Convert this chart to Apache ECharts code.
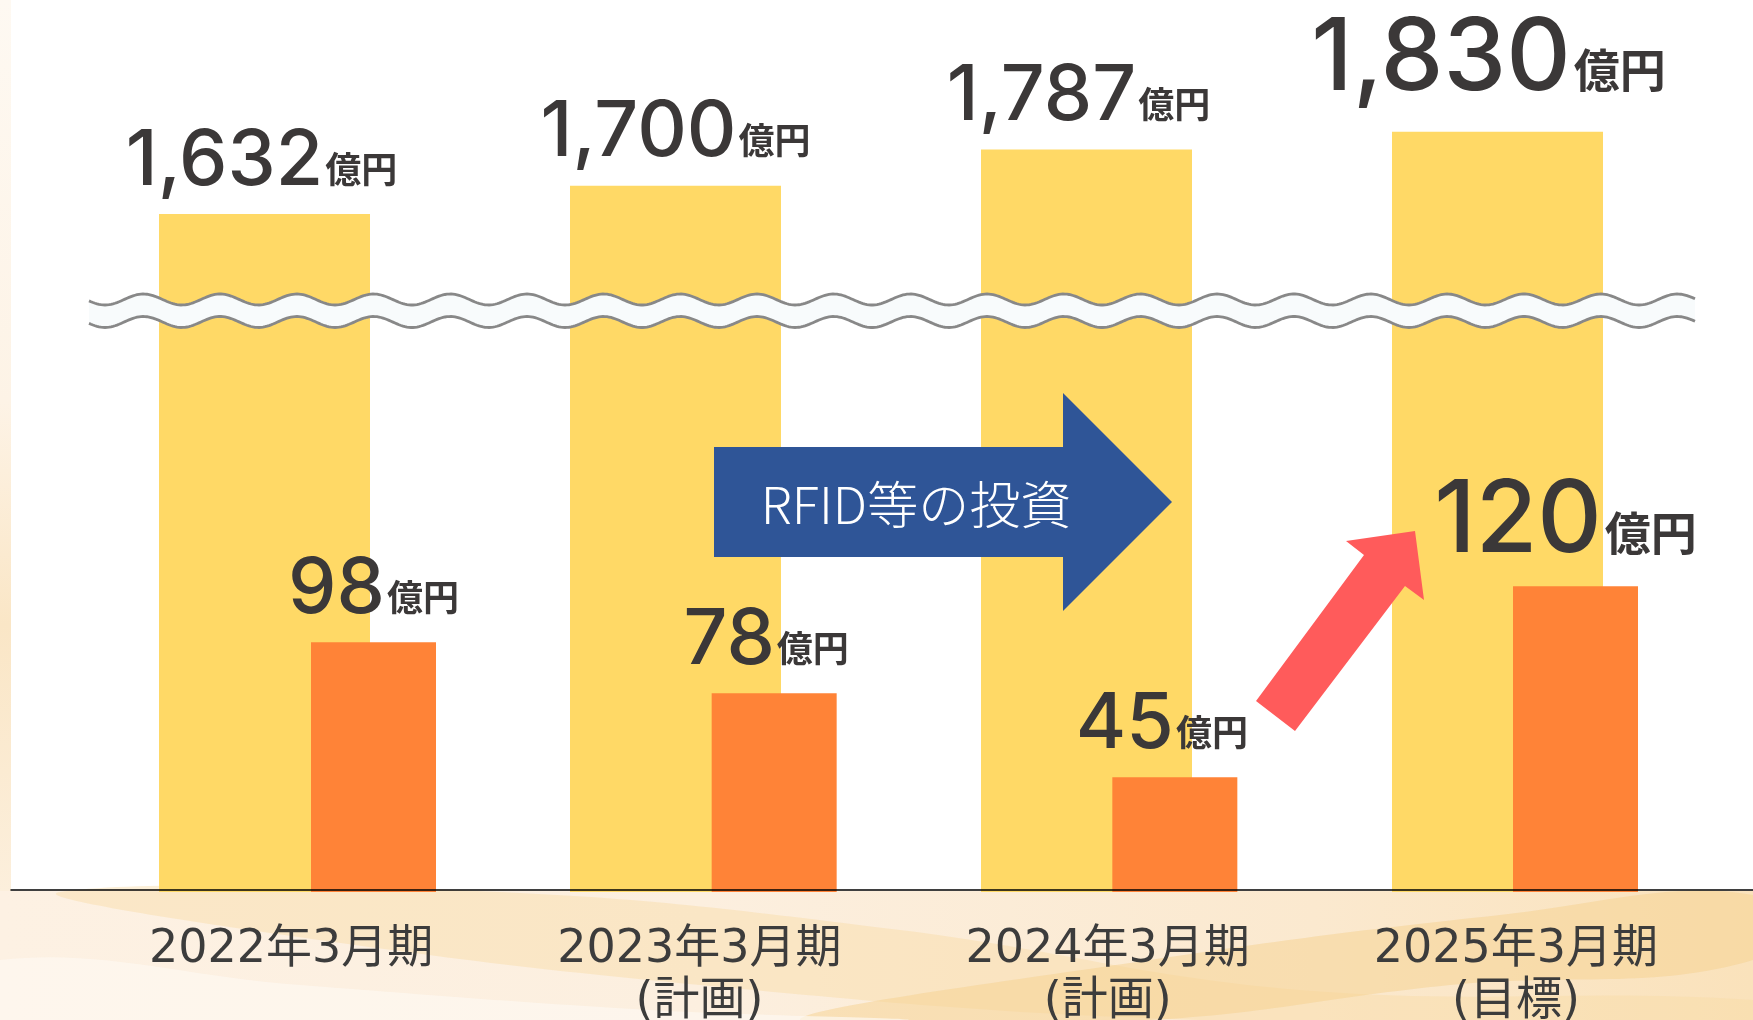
<!DOCTYPE html>
<html>
<head>
<meta charset="utf-8">
<script src="https://cdn.jsdelivr.net/npm/echarts@6/dist/echarts.min.js"></script>
<style>
html,body{margin:0;padding:0;background:#ffffff;}
#chart{width:1753px;height:1020px;}
</style>
</head>
<body>
<div id="chart"></div>
<script>
// ---------- data ----------
const categories = ['2022年3月期', '2023年3月期', '2024年3月期', '2025年3月期'];
const categoryNotes = ['', '(計画)', '(計画)', '(目標)'];
const salesValues = [1632, 1700, 1787, 1830];   // 億円
const profitValues = [98, 78, 45, 120];         // 億円
const unitLabel = '億円';
const arrowText = 'RFID等の投資';

// ---------- style ----------
const TEXT = '#3b3838';
const YELLOW = '#FFD966';
const ORANGE = '#FF8337';
const BLUE = '#2F5597';
const RED = '#FF5B5B';
const NUMFONT = "Inter, 'Noto Sans', sans-serif";
const CJK = "'Noto Sans CJK JP', sans-serif";
const LABEL_FONT = "'DejaVu Sans', 'Noto Sans CJK JP', sans-serif";
const lastIdx = categories.length - 1;
// small horizontal nudges of the value labels (px)
const salesLabelShift = [-3, 0, -8, -9];
const profitLabelShift = [0, -8, -13, -10];

const richStyles = {
  n: {fontSize: 77, fontFamily: NUMFONT, fontWeight: 500, color: TEXT, verticalAlign: 'bottom'},
  u: {fontSize: 36, fontFamily: CJK, fontWeight: 'bold', color: TEXT, verticalAlign: 'bottom', padding: [0, 0, 13, 2]},
  N: {fontSize: 100, fontFamily: NUMFONT, fontWeight: 500, color: TEXT, verticalAlign: 'bottom'},
  U: {fontSize: 46, fontFamily: CJK, fontWeight: 'bold', color: TEXT, verticalAlign: 'bottom', padding: [0, 0, 17, 3]}
};
function valueFormatter(p) {
  const txt = Number(p.value).toLocaleString('en-US');
  return p.dataIndex === lastIdx ? '{N|' + txt + '}{U|' + unitLabel + '}' : '{n|' + txt + '}{u|' + unitLabel + '}';
}
function buildItems(values, shifts, bigDistance) {
  return values.map((v, i) => {
    const label = {offset: [shifts[i], 0]};
    if (i === lastIdx) label.distance = bigDistance;
    return {value: v, label: label};
  });
}

// ---------- decorations (annotation shapes, pixel layout) ----------
const wave = {x0: 89, x1: 1696, period: 76.7, amp: 5.5, crestX: 757, upper: 299.5, lower: 322};
function wavePts(cy) {
  const pts = [];
  for (let x = wave.x0; x <= wave.x1; x += 2) {
    pts.push([x, cy - wave.amp * Math.cos(2 * Math.PI * (x - wave.crestX) / wave.period)]);
  }
  return pts;
}
const upperPts = wavePts(wave.upper);
const lowerPts = wavePts(wave.lower);
const bandPts = upperPts.concat(lowerPts.slice().reverse());

const blueArrow = [[714, 447], [1063, 447], [1063, 393], [1172, 502], [1063, 611], [1063, 557], [714, 557]];
const redArrow = [[1256, 701], [1364, 555], [1346, 541], [1415, 531], [1424, 600], [1405, 586], [1295, 731]];

const chart = echarts.init(document.getElementById('chart'), null, {renderer: 'canvas'});

const option = {
  animation: false,
  backgroundColor: '#ffffff',
  grid: [
    {left: 59, width: 1644, top: 0, bottom: 128, outerBoundsMode: 'none', containLabel: false},
    {left: 373.5, width: 1202, top: 0, bottom: 128, outerBoundsMode: 'none', containLabel: false},
    {left: 87, width: 1633, top: 0, bottom: 129, outerBoundsMode: 'none', containLabel: false},
    {left: 11, right: 0, top: 0, bottom: 130, outerBoundsMode: 'none', containLabel: false}
  ],
  xAxis: [
    {gridIndex: 0, type: 'category', data: categories, show: false},
    {gridIndex: 1, type: 'category', data: categories, show: false, boundaryGap: false},
    {gridIndex: 2, type: 'category', data: categories,
      axisLine: {show: false}, axisTick: {show: false}, splitLine: {show: false},
      axisLabel: {
        interval: 0, margin: 33, color: '#3c3c3c', fontSize: 46, lineHeight: 52,
        fontFamily: LABEL_FONT,
        formatter: (v, i) => v + '\n' + categoryNotes[i]
      }},
    {gridIndex: 3, type: 'category', data: [''], z: 10,
      axisLine: {show: true, lineStyle: {color: '#000000', width: 1.5}},
      axisTick: {show: false}, axisLabel: {show: false}, splitLine: {show: false}}
  ],
  yAxis: [
    {gridIndex: 0, type: 'value', min: 0, max: 2147, show: false},
    {gridIndex: 1, type: 'value', min: 0, max: 350, show: false},
    {gridIndex: 2, type: 'value', show: false},
    {gridIndex: 3, type: 'value', show: false}
  ],
  series: [
    {
      type: 'bar', name: '売上高', xAxisIndex: 0, yAxisIndex: 0,
      data: buildItems(salesValues, salesLabelShift, 22),
      barWidth: 211, itemStyle: {color: YELLOW}, z: 2,
      label: {show: true, position: 'top', distance: 14, formatter: valueFormatter, rich: richStyles}
    },
    {
      type: 'bar', name: '利益', xAxisIndex: 1, yAxisIndex: 1,
      data: buildItems(profitValues, profitLabelShift, 14),
      barWidth: 125, itemStyle: {color: ORANGE}, z: 3,
      label: {show: true, position: 'top', distance: 14, formatter: valueFormatter, rich: richStyles}
    }
  ],
  graphic: [
    // left cream strip
    {type: 'rect', z: -1, shape: {x: 0, y: 0, width: 11, height: 892},
      style: {fill: new echarts.graphic.LinearGradient(0, 0, 0, 1, [
        {offset: 0, color: '#fef9f2'}, {offset: 0.45, color: '#fdf3e6'},
        {offset: 0.7, color: '#fae6c6'}, {offset: 1, color: '#fcefdc'}])}},
    // bottom decorative band
    {type: 'rect', z: -1, shape: {x: 0, y: 891, width: 1753, height: 129},
      style: {fill: new echarts.graphic.LinearGradient(0, 0, 1, 0, [
        {offset: 0, color: '#fdf1e3'}, {offset: 0.4, color: '#fcefdf'},
        {offset: 0.75, color: '#fbe9cf'}, {offset: 1, color: '#fae2bb'}])}},
    {type: 'polygon', z: -1, shape: {smooth: 0.4, points: [[60, 892], [500, 892], [900, 930], [1300, 990], [1753, 1000], [1753, 1020], [1200, 1020], [700, 985], [250, 930]]},
      style: {fill: '#f9dca6', opacity: 0.45}},
    {type: 'polygon', z: -1, shape: {smooth: 0.4, points: [[800, 1020], [1150, 960], [1500, 915], [1753, 895], [1753, 960], [1450, 985], [1150, 1020]]},
      style: {fill: '#f6d190', opacity: 0.5}},
    {type: 'polygon', z: -1, shape: {smooth: 0.4, points: [[0, 960], [300, 985], [650, 1010], [900, 1020], [0, 1020]]},
      style: {fill: '#fef8f1', opacity: 0.7}},
    // wave break
    {type: 'polygon', z: 20, shape: {points: bandPts}, style: {fill: '#f8fbfc'}},
    {type: 'polyline', z: 21, shape: {points: upperPts}, style: {stroke: '#888888', lineWidth: 2.8, fill: null}},
    {type: 'polyline', z: 21, shape: {points: lowerPts}, style: {stroke: '#888888', lineWidth: 2.8, fill: null}},
    // blue arrow with text
    {type: 'polygon', z: 22, shape: {points: blueArrow}, style: {fill: BLUE}},
    {type: 'text', z: 23, x: 916, y: 505,
      style: {text: arrowText, fill: '#ffffff', fontSize: 51, fontFamily: CJK, fontWeight: 300, align: 'center', verticalAlign: 'middle'}},
    // red arrow
    {type: 'polygon', z: 22, shape: {points: redArrow}, style: {fill: RED}}
  ]
};
chart.setOption(option);
</script>
</body>
</html>
